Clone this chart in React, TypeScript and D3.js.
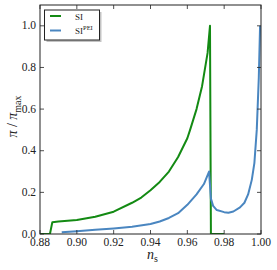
import React from "react";
import * as d3 from "d3";

const siX = [0.88, 0.8854, 0.8867, 0.89, 0.90, 0.91, 0.92, 0.93, 0.935, 0.94, 0.945, 0.95, 0.955, 0.96, 0.9615, 0.965, 0.968, 0.971, 0.9723, 0.9728, 0.98];
const siY = [0, 0, 0.057, 0.060, 0.067, 0.083, 0.107, 0.15, 0.175, 0.21, 0.25, 0.30, 0.37, 0.46, 0.5, 0.6, 0.71, 0.87, 1.0, 0, 0];

const peiX = [0.8918, 0.90, 0.91, 0.92, 0.93, 0.94, 0.945, 0.95, 0.955, 0.96, 0.965, 0.969, 0.9718, 0.9728, 0.974, 0.976, 0.98, 0.9823, 0.985, 0.9886, 0.991, 0.993, 0.995, 0.9964, 0.9977, 0.9988, 0.9995];
const peiY = [0.008, 0.013, 0.020, 0.027, 0.035, 0.048, 0.060, 0.077, 0.10, 0.14, 0.19, 0.24, 0.30, 0.17, 0.135, 0.115, 0.105, 0.102, 0.108, 0.128, 0.15, 0.19, 0.26, 0.34, 0.5, 0.75, 1.0];

const xTicks = [0.88, 0.90, 0.92, 0.94, 0.96, 0.98, 1.0];
const yTicks = [0.0, 0.2, 0.4, 0.6, 0.8, 1.0];

const W = 277, H = 270;
const L = 40, R = 261, T = 5, B = 234;
const FONT = "'Liberation Serif', 'DejaVu Serif', serif";
const GREEN = "#138a13";
const BLUE = "#4a86c0";

export default function App() {
  const x = d3.scaleLinear().domain([0.88, 1.0]).range([L, R]);
  const y = d3.scaleLinear().domain([0, 1.1]).range([B, T]);
  const line = d3.line<[number, number]>().x(d => x(d[0])).y(d => y(d[1]));
  const siPts = siX.map((v, i) => [v, siY[i]] as [number, number]);
  const peiPts = peiX.map((v, i) => [v, peiY[i]] as [number, number]);
  const tl = 4;
  return (
    <svg width={W} height={H} style={{ position: "absolute", left: 0, top: 0 }} fontFamily={FONT}>
      <rect x={0} y={0} width={W} height={H} fill="#fff" />
      <defs>
        <clipPath id="clip"><rect x={L} y={T} width={R - L} height={B - T} /></clipPath>
      </defs>
      <g clipPath="url(#clip)" fill="none" strokeWidth={2} strokeLinejoin="round">
        <path d={line(siPts) || ""} stroke={GREEN} />
        <path d={line(peiPts) || ""} stroke={BLUE} />
      </g>
      {xTicks.map(t => (
        <g key={"x" + t}>
          <line x1={x(t)} x2={x(t)} y1={B} y2={B - tl} stroke="#222" strokeWidth={0.8} />
          <line x1={x(t)} x2={x(t)} y1={T} y2={T + tl} stroke="#222" strokeWidth={0.8} />
          <text x={x(t)} y={B + 12} fontSize={11.5} textAnchor="middle" fill="#222">{t.toFixed(2)}</text>
        </g>
      ))}
      {yTicks.map(t => (
        <g key={"y" + t}>
          <line x1={L} x2={L + tl} y1={y(t)} y2={y(t)} stroke="#222" strokeWidth={0.8} />
          <line x1={R} x2={R - tl} y1={y(t)} y2={y(t)} stroke="#222" strokeWidth={0.8} />
          <text x={36} y={y(t) + 3.5} fontSize={11.5} textAnchor="end" fill="#222">{t.toFixed(1)}</text>
        </g>
      ))}
      <rect x={L} y={T} width={R - L} height={B - T} fill="none" stroke="#222" strokeWidth={1} />
      {/* legend */}
      <rect x={46.5} y={12} width={55} height={30} fill="#888" opacity={0.5} />
      <rect x={44.5} y={10} width={55} height={30} fill="#fff" stroke="#222" strokeWidth={1} />
      <line x1={50} x2={61} y1={16} y2={16} stroke={GREEN} strokeWidth={2} />
      <line x1={50} x2={61} y1={30.5} y2={30.5} stroke={BLUE} strokeWidth={2} />
      <text x={75} y={19.5} fontSize={9} fill="#222">SI</text>
      <text x={75} y={33.5} fontSize={9} fill="#222">SI<tspan fontSize={6.5} dy={-3.5}>PEI</tspan></text>
      {/* axis labels */}
      <text x={147} y={259} fontSize={14} fill="#222"><tspan fontStyle="italic">n</tspan><tspan fontSize={10} dy={2.5}>s</tspan></text>
      <text transform={`translate(16.5, ${(T + B) / 2 - 3}) rotate(-90)`} fontSize={14} textAnchor="middle" fill="#222">
        <tspan fontStyle="italic">π</tspan><tspan> / </tspan><tspan fontStyle="italic">π</tspan><tspan fontSize={10} dy={4}>max</tspan>
      </text>
    </svg>
  );
}
